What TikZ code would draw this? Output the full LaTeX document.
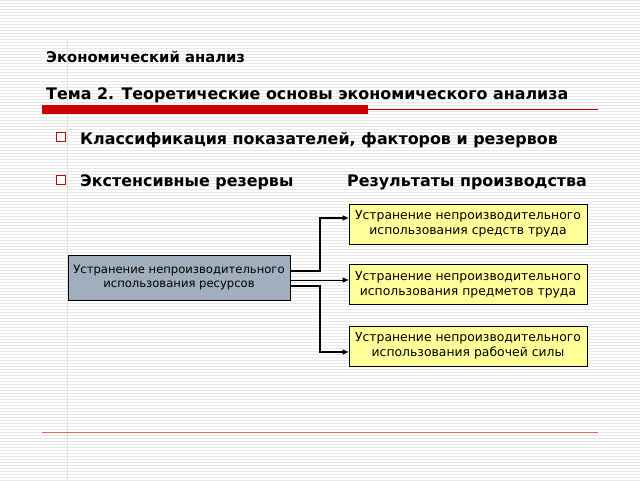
\documentclass[tikz,border=0pt]{standalone}
\usepackage{fontspec}
\setmainfont{DejaVu Sans}
\usetikzlibrary{arrows.meta}
\definecolor{sred}{HTML}{CC0000}
\definecolor{ybox}{HTML}{FFFF99}
\definecolor{gbox}{HTML}{A0AEBE}
\begin{document}
\begin{tikzpicture}[x=1pt,y=-1pt,
  ttl/.style={anchor=west,inner sep=0,font=\bfseries\fontsize{15.9}{18}\selectfont},
  box/.style={draw=black,line width=1pt,align=center,inner sep=0,font=\fontsize{12.4}{15}\selectfont},
  yb/.style={box,fill=ybox,minimum width=238pt,minimum height=40pt},
  con/.style={line width=1pt,-{Triangle[length=6pt,width=5pt]}},
  bul/.style={draw=sred,fill=white,line width=1pt,minimum size=9pt,inner sep=0}]
\useasboundingbox (0,0) rectangle (640,480);
\fill[white] (0,0) rectangle (640,480);
\foreach \i in {0,3,...,480}{\draw[black!9,line width=0.6pt] (0,\i) -- (640,\i);}
\draw[black!12,line width=0.8pt] (67,40) -- (67,480);
\node[ttl,font=\bfseries\fontsize{14.8}{18}\selectfont] (t1) at (46,57) {Экономический анализ};
\node[ttl] (t2) at (46,95) {Тема 2. Теоретические основы экономического анализа};
\fill[sred] (42,105) rectangle (368,114);
\draw[sred,line width=0.7pt] (368,109) -- (598,109);
\node[bul] (b1) at (61,137) {};
\node[bul] (b2) at (61,180) {};
\node[ttl] (l1) at (80,140) {Классификация показателей, факторов и резервов};
\node[ttl] (l2) at (80,182) {Экстенсивные резервы};
\node[ttl] (l3) at (347,182) {Результаты производства};
\node[box,fill=gbox,minimum width=222pt,minimum height=45pt,font=\fontsize{11.6}{14}\selectfont] (src) at (179,277.5) {Устранение непроизводительного\\использования ресурсов};
\node[yb] (r1) at (468,224) {Устранение непроизводительного\\использования средств труда};
\node[yb] (r2) at (468,284.5) {Устранение непроизводительного\\использования предметов труда};
\node[yb] (r3) at (468,346) {Устранение непроизводительного\\использования рабочей силы};
\coordinate (s1) at (290,271);
\coordinate (s2) at (290,280);
\coordinate (s3) at (290,286);
\draw[con,line width=1.6pt] (s1) -| (320,218) -- (r1.west|-0,218);
\draw[con] (s2) -- (r2.west|-0,280);
\draw[con,line width=1.6pt] (s3) -| (320,352) -- (r3.west|-0,352);
\draw[sred!60,line width=0.7pt] (42,432) -- (598,432);
\end{tikzpicture}
\end{document}
